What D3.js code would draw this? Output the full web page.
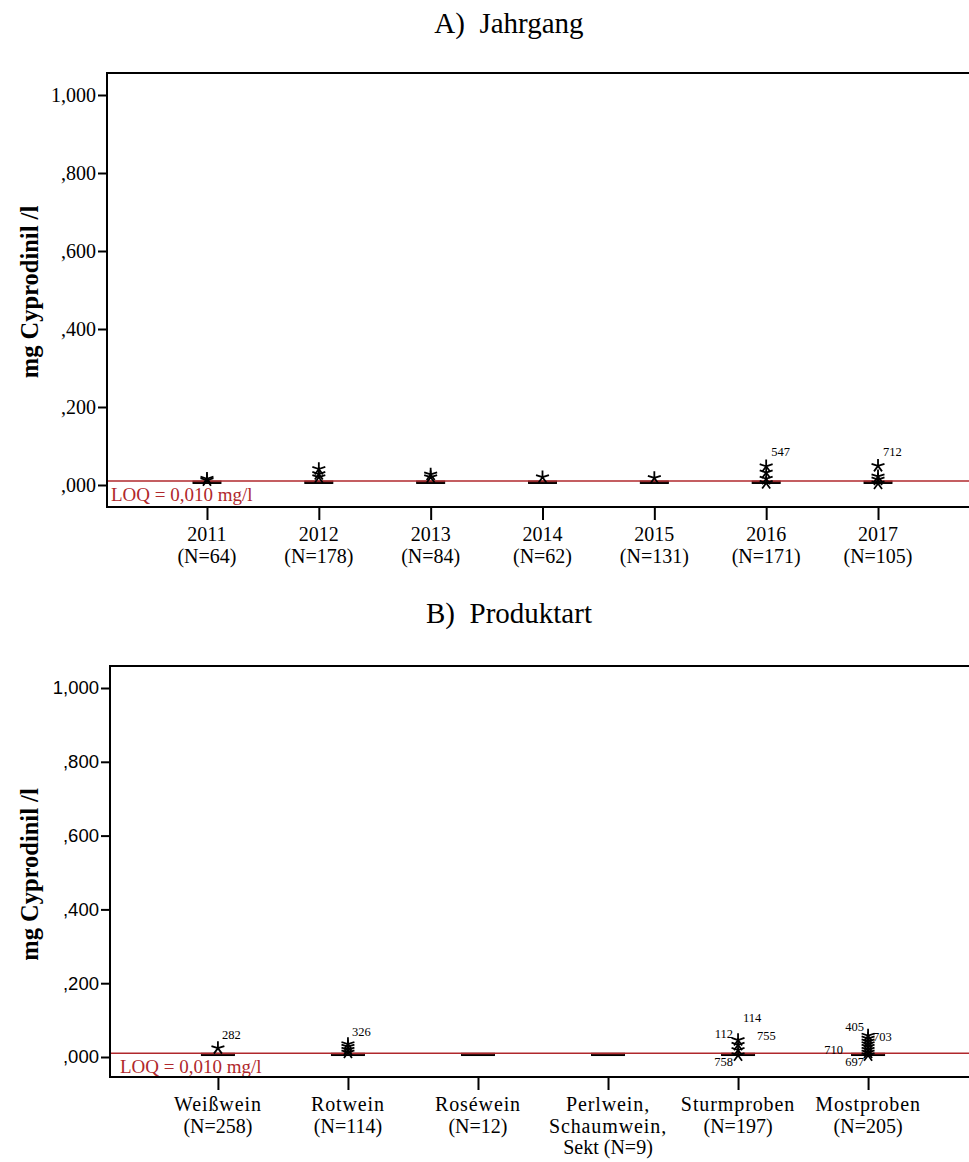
<!DOCTYPE html>
<html>
<head>
<meta charset="utf-8">
<script src="https://cdn.jsdelivr.net/npm/d3@7"></script>
<style>
  html, body { margin: 0; padding: 0; background: #fff; }
  svg { display: block; }
  .serif { font-family: "Liberation Serif", "Times New Roman", Tinos, "DejaVu Serif", serif; }
  .sans { font-family: "Liberation Sans", Arial, Arimo, "DejaVu Sans", sans-serif; }
</style>
</head>
<body>
<svg id="chart" width="969" height="1162"></svg>
<script>
// ---- Panel A: vintage (Jahrgang) ----
const years = ["2011", "2012", "2013", "2014", "2015", "2016", "2017"];
const yearN = [64, 178, 84, 62, 131, 171, 105];
const yearQ1 = [0.004, 0.004, 0.004, 0.004, 0.004, 0.004, 0.004];
const yearMedian = [0.005, 0.005, 0.005, 0.005, 0.005, 0.005, 0.005];
const yearQ3 = [0.010, 0.010, 0.010, 0.010, 0.010, 0.010, 0.010];
const yearExtremes = [
  [0.016, 0.012],
  [0.041, 0.028, 0.020],
  [0.027, 0.020],
  [0.020],
  [0.018],
  [0.048, 0.032, 0.016, 0.005],
  [0.049, 0.022, 0.014, 0.004]
];
// case numbers printed beside selected extremes: [category index, extreme index, case]
const yearCaseLabels = [[5, 0, "547"], [6, 0, "712"]];

// ---- Panel B: product type (Produktart) ----
const products = [["Weißwein"], ["Rotwein"], ["Roséwein"], ["Perlwein,", "Schaumwein,"], ["Sturmproben"], ["Mostproben"]];
const productN = [258, 114, 12, 9, 197, 205];
const productQ1 = [0.004, 0.004, 0.004, 0.004, 0.004, 0.004];
const productMedian = [0.005, 0.005, 0.005, 0.005, 0.005, 0.005];
const productQ3 = [0.010, 0.010, 0.010, 0.010, 0.010, 0.010];
const productExtremes = [
  [0.024],
  [0.035, 0.028, 0.020, 0.012],
  [],
  [],
  [0.046, 0.033, 0.019, 0.005],
  [0.058, 0.050, 0.042, 0.035, 0.028, 0.020, 0.012, 0.005]
];
const productCaseLabels = [
  [0, 0, "282"], [1, 0, "326"],
  [4, 0, "114"], [4, 1, "112"], [4, 1, "755"], [4, 3, "758"],
  [5, 0, "405"], [5, 1, "703"], [5, 6, "710"], [5, 7, "697"]
];

const yTicks = [0, 0.2, 0.4, 0.6, 0.8, 1.0];
const loq = 0.010;
const yTitle = "mg Cyprodinil /l";

// label placement around an extreme marker, keyed by case number
const caseLabelPlacement = {
  "547": { dx: 5, dy: -10, anchor: "start" },
  "712": { dx: 5, dy: -10, anchor: "start" },
  "282": { dx: 4, dy: -9, anchor: "start" },
  "326": { dx: 4, dy: -8, anchor: "start" },
  "114": { dx: 5, dy: -18, anchor: "start" },
  "112": { dx: -5, dy: -7, anchor: "end" },
  "755": { dx: 19, dy: -5, anchor: "start" },
  "758": { dx: -5, dy: 11, anchor: "end" },
  "405": { dx: -4, dy: -5, anchor: "end" },
  "703": { dx: 5, dy: 2, anchor: "start" },
  "710": { dx: -25, dy: 1, anchor: "end" },
  "697": { dx: -4, dy: 11, anchor: "end" }
};

const LOQ_COLOR = "#b0282c";

const svg = d3.select("#chart");

// five-armed asterisk used for extreme values
function asteriskPath(r) {
  let p = "";
  for (let k = 0; k < 5; k++) {
    const a = -Math.PI / 2 + k * 2 * Math.PI / 5;
    p += `M0,0L${(r * Math.cos(a)).toFixed(2)},${(r * Math.sin(a)).toFixed(2)}`;
  }
  return p;
}

// SPSS-style value format: ,200 / 1,000
function fmtTick(v) {
  const s = v.toFixed(3).replace(".", ",");
  return s.startsWith("0,") ? s.slice(1) : s;
}

function drawPanel(cfg) {
  const g = svg.append("g");
  const x = d3.scalePoint().domain(d3.range(cfg.cats.length))
    .range([cfg.left, cfg.right]).padding(cfg.pad);
  const y = d3.scaleLinear().domain(cfg.yDomain).range([cfg.bottom, cfg.top]);

  // title
  g.append("text")
    .attr("class", "serif")
    .attr("x", 509).attr("y", cfg.titleY)
    .attr("text-anchor", "middle")
    .style("font-size", "29px")
    .text(cfg.title);

  // y axis
  const yAxis = d3.axisLeft(y).tickValues(yTicks).tickSize(cfg.yTickLen).tickPadding(2).tickFormat(fmtTick);
  const ya = g.append("g").attr("transform", `translate(${cfg.left},0)`).call(yAxis);
  ya.attr("font-family", null).attr("font-size", null);
  ya.select(".domain").remove();
  ya.selectAll(".tick line").attr("stroke", "#000").attr("stroke-width", 2);
  ya.selectAll(".tick text").attr("class", cfg.tickClass).style("font-size", cfg.tickSize).attr("fill", "#000");

  // y title
  g.append("text")
    .attr("class", "serif")
    .attr("transform", `translate(${cfg.titleX},${(y(0) + y(1)) / 2 + 2}) rotate(-90)`)
    .attr("text-anchor", "middle")
    .attr("dy", "0.35em")
    .style("font-size", "24.5px").style("font-weight", "bold")
    .text(yTitle);

  // x axis ticks and category labels
  const xAxis = d3.axisBottom(x).tickSize(13).tickFormat("");
  const xa = g.append("g").attr("transform", `translate(0,${cfg.bottom})`).call(xAxis);
  xa.select(".domain").remove();
  xa.selectAll(".tick line").attr("stroke", "#000").attr("stroke-width", 2);

  cfg.cats.forEach((c, i) => {
    const lines = cfg.labelLines(c, i);
    const t = g.append("text")
      .attr("class", "serif")
      .attr("text-anchor", "middle")
      .style("font-size", "20px");
    lines.forEach((ln, j) => {
      t.append("tspan").attr("x", x(i)).attr("y", cfg.bottom + 34 + j * 21.5)
        .style("letter-spacing", /^[A-Za-zÀ-ÿ]+,?$/.test(ln) ? "0.9px" : null)
        .text(ln);
    });
  });

  // boxes
  const bw = cfg.boxWidth;
  cfg.cats.forEach((c, i) => {
    g.append("rect")
      .attr("x", x(i) - bw / 2).attr("width", bw)
      .attr("y", y(cfg.q3[i])).attr("height", Math.max(1, y(cfg.q1[i]) - y(cfg.q3[i])))
      .attr("fill", "#6a2424").attr("stroke", "#111").attr("stroke-width", 1);
    g.append("line")
      .attr("x1", x(i) - bw / 2).attr("x2", x(i) + bw / 2)
      .attr("y1", y(cfg.med[i])).attr("y2", y(cfg.med[i]))
      .attr("stroke", "#000").attr("stroke-width", 1.5);
  });

  // LOQ reference line
  g.append("line")
    .attr("x1", cfg.left).attr("x2", cfg.right)
    .attr("y1", y(loq)).attr("y2", y(loq))
    .attr("stroke", LOQ_COLOR).attr("stroke-width", 1.5);
  g.append("text")
    .attr("class", "serif")
    .attr("x", cfg.loqX).attr("y", y(loq) + 20)
    .style("font-size", "19px")
    .attr("fill", LOQ_COLOR)
    .text("LOQ = 0,010 mg/l");

  // extremes
  const star = asteriskPath(6.8);
  cfg.extremes.forEach((vals, i) => {
    vals.forEach(v => {
      g.append("path")
        .attr("d", star)
        .attr("transform", `translate(${x(i)},${y(v)})`)
        .attr("fill", "none").attr("stroke", "#000").attr("stroke-width", 1.8);
    });
  });

  // case number labels
  cfg.caseLabels.forEach(([ci, ei, id]) => {
    const pl = caseLabelPlacement[id];
    g.append("text")
      .attr("class", "serif")
      .attr("x", x(ci) + pl.dx).attr("y", y(cfg.extremes[ci][ei]) + pl.dy)
      .attr("text-anchor", pl.anchor)
      .style("font-size", "12.5px")
      .text(id);
  });

  // frame (right edge runs past the visible area)
  g.append("path")
    .attr("d", `M${cfg.right + 30},${cfg.top}H${cfg.left}V${cfg.bottom}H${cfg.right + 30}`)
    .attr("fill", "none").attr("stroke", "#000").attr("stroke-width", 2);
}

drawPanel({
  title: "A)\u00a0 Jahrgang", titleY: 33, titleX: 29,
  cats: years,
  labelLines: (c, i) => [c, `(N=${yearN[i]})`],
  q1: yearQ1, med: yearMedian, q3: yearQ3,
  extremes: yearExtremes, caseLabels: yearCaseLabels,
  left: 107, right: 978, pad: 0.894,
  top: 73, bottom: 507,
  yDomain: [-(507 - 485) / 390, (485 - 73) / 390],
  tickClass: "serif", tickSize: "20px", yTickLen: 9,
  boxWidth: 28, loqX: 111
});

drawPanel({
  title: "B)\u00a0 Produktart", titleY: 623, titleX: 29,
  cats: products,
  labelLines: (c, i) => i === 3 ? [c[0], c[1], `Sekt (N=${productN[i]})`] : [c[0], `(N=${productN[i]})`],
  q1: productQ1, med: productMedian, q3: productQ3,
  extremes: productExtremes, caseLabels: productCaseLabels,
  left: 110, right: 976, pad: 0.83,
  top: 666, bottom: 1077,
  yDomain: [-(1077 - 1057) / 369, (1057 - 666) / 369],
  tickClass: "sans", tickSize: "18.5px", yTickLen: 9,
  boxWidth: 33, loqX: 120
});
</script>
</body>
</html>
